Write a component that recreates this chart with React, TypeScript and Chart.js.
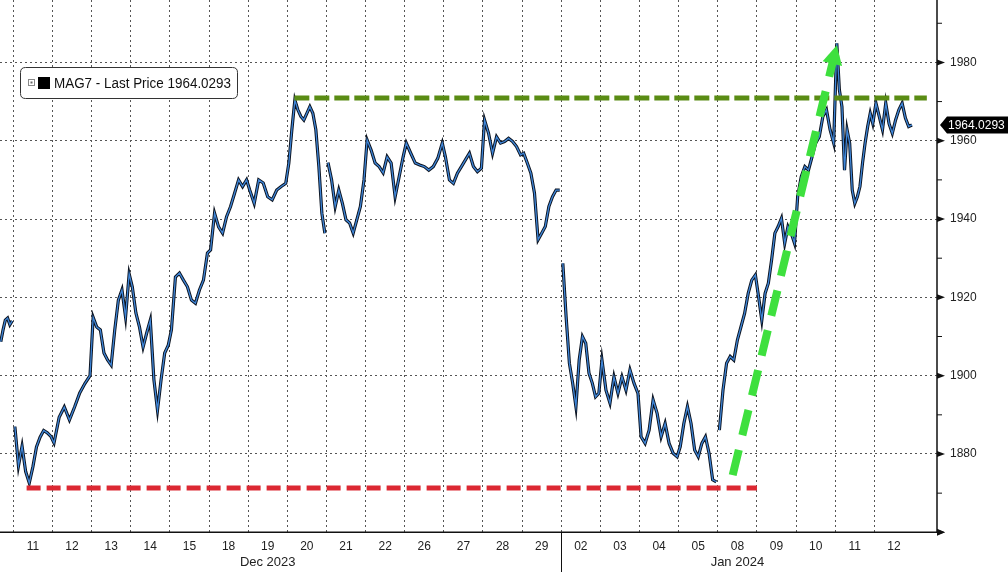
import React, { useEffect, useRef } from "react";
import { Chart, registerables } from "chart.js";

Chart.register(...registerables);

// ---------- data ----------
const dayLabels = ["08", "11", "12", "13", "14", "15", "18", "19", "20", "21", "22", "26", "27", "28", "29", "02", "03", "04", "05", "08", "09", "10", "11", "12"];

const dayPrices: number[][] = [
  [1908.7, 1911.7, 1914.2, 1914.7, 1913.0, 1914.0],
  [1887.0, 1877.0, 1882.0, 1875.5, 1872.6, 1876.7, 1881.8, 1884.3, 1886.0, 1885.4, 1884.5],
  [1882.8, 1889.4, 1892.0, 1888.7, 1892.0, 1895.6, 1898.0, 1900.0],
  [1914.9, 1912.4, 1911.7, 1905.8, 1904.0, 1902.7, 1911.7, 1919.3, 1921.9, 1915.0, 1926.0],
  [1922.7, 1916.0, 1912.4, 1907.3, 1910.9, 1914.2, 1899.0, 1891.2, 1899.0, 1905.8, 1907.8],
  [1911.7, 1925.2, 1926.2, 1924.4, 1922.7, 1919.3, 1918.5, 1921.9, 1924.4, 1931.3],
  [1932.1, 1941.5, 1938.0, 1936.4, 1940.6, 1943.2, 1946.6, 1950.0, 1948.3, 1950.0],
  [1947.4, 1944.0, 1950.0, 1949.2, 1945.7, 1944.9, 1947.4, 1948.3, 1949.1],
  [1954.3, 1962.8, 1970.4, 1967.9, 1966.2, 1965.3, 1967.0, 1968.7, 1967.0, 1962.8, 1953.4, 1941.5, 1936.4],
  [1954.4, 1950.0, 1943.2, 1947.4, 1944.0, 1939.8, 1939.0, 1936.4, 1939.8, 1943.2, 1950.0],
  [1960.2, 1957.6, 1954.3, 1953.4, 1951.8, 1955.9, 1954.3, 1945.7, 1950.8, 1955.9],
  [1959.4, 1956.8, 1954.3, 1953.8, 1953.4, 1952.5, 1953.4, 1955.5, 1959.4],
  [1955.9, 1950.0, 1949.1, 1951.7, 1953.4, 1955.1, 1956.8, 1953.4, 1952.1, 1953.0],
  [1965.3, 1961.9, 1956.8, 1961.0, 1959.4, 1959.8, 1960.6, 1959.8, 1958.5, 1956.4],
  [1956.8, 1954.3, 1951.7, 1946.6, 1934.7, 1936.4, 1938.1, 1943.2, 1945.7, 1947.4, 1947.4],
  [1928.7, 1915.1, 1903.2, 1898.1, 1892.1, 1904.0, 1910.0, 1908.3, 1900.6, 1898.1, 1894.6, 1895.5],
  [1904.0, 1896.3, 1893.0, 1899.7, 1895.5, 1899.7, 1896.3, 1901.5, 1898.1, 1895.5],
  [1884.4, 1882.7, 1886.1, 1893.8, 1890.4, 1884.4, 1887.8, 1882.7, 1880.2, 1879.3],
  [1881.9, 1887.8, 1892.1, 1887.8, 1881.0, 1879.3, 1882.7, 1884.4, 1880.2, 1873.4, 1872.9],
  [1886.1, 1896.3, 1903.2, 1904.9, 1904.0, 1909.1, 1912.5, 1915.9, 1921.0, 1924.4, 1925.7],
  [1920.2, 1914.2, 1921.0, 1923.6, 1929.6, 1936.4, 1938.1, 1940.2, 1933.8, 1938.1, 1936.4, 1933.8],
  [1945.7, 1950.8, 1953.4, 1952.5, 1955.9, 1959.4, 1961.0, 1966.2, 1967.9, 1962.8, 1959.4],
  [1984.9, 1973.0, 1968.7, 1952.5, 1962.8, 1959.4, 1947.4, 1944.0, 1945.7, 1948.3, 1954.3, 1959.4, 1963.6, 1967.0, 1964.4],
  [1969.6, 1966.2, 1962.8, 1969.6, 1964.4, 1961.9, 1965.3, 1967.9, 1969.6, 1965.8, 1963.6, 1964.0293],
];

const sessionBreaks = [1, 9, 15, 19];
const monthLabels = ["Dec 2023", "Jan 2024"];
const monthCenters = [7.5, 19.5];
const yearBoundary = 15;
const gridDays = [1, 2, 3, 4, 5, 6, 7, 8, 9, 10, 11, 12, 13, 14, 15, 16, 17, 18, 19, 20, 21, 22, 23];
const yTickValues = [1860, 1870, 1880, 1890, 1900, 1910, 1920, 1930, 1940, 1950, 1960, 1970, 1980, 1990];
const yLabelValues = [1880, 1900, 1920, 1940, 1960, 1980];
const seriesName = "MAG7 - Last Price";
const lastPrice = 1964.0293;

const supportLevel = 1871.3;
const supportRange = [1.34, 20.0];
const resistanceLevel = 1970.9;
const resistanceRange = [8.18, 24.34];
const arrowFrom = [19.38, 1874.6];
const arrowTo = [22.04, 1984.4];

const FONT = "'Liberation Sans', Arial, sans-serif";

function buildPoints() {
  const pts: { x: number; y: number | null }[] = [];
  dayPrices.forEach((prices, d) => {
    if (sessionBreaks.includes(d)) pts.push({ x: d - 0.001, y: null });
    const start = d === 0 ? 0.68 : d + 0.04;
    const end = d === 0 ? 0.97 : d + 0.96;
    prices.forEach((p, i) => {
      pts.push({ x: start + ((end - start) * i) / (prices.length - 1), y: p });
    });
  });
  return pts;
}

const overlayPlugin = {
  id: "overlay",
  afterDatasetsDraw(chart: any) {
    const { ctx, scales } = chart;
    const xs = scales.x;
    const ys = scales.y;
    ctx.save();
    // support line (red)
    ctx.setLineDash([14, 6]);
    ctx.lineWidth = 5;
    ctx.strokeStyle = "#dc2832";
    ctx.beginPath();
    ctx.moveTo(xs.getPixelForValue(supportRange[0]), ys.getPixelForValue(supportLevel));
    ctx.lineTo(xs.getPixelForValue(supportRange[1]), ys.getPixelForValue(supportLevel));
    ctx.stroke();
    // resistance line (olive)
    ctx.setLineDash([15, 5]);
    ctx.strokeStyle = "#5a8c14";
    ctx.beginPath();
    ctx.moveTo(xs.getPixelForValue(resistanceRange[0]), ys.getPixelForValue(resistanceLevel));
    ctx.lineTo(xs.getPixelForValue(resistanceRange[1]), ys.getPixelForValue(resistanceLevel));
    ctx.stroke();
    // green arrow
    const x0 = xs.getPixelForValue(arrowFrom[0]);
    const y0 = ys.getPixelForValue(arrowFrom[1]);
    const x1 = xs.getPixelForValue(arrowTo[0]);
    const y1 = ys.getPixelForValue(arrowTo[1]);
    const len = Math.hypot(x1 - x0, y1 - y0);
    const ux = (x1 - x0) / len;
    const uy = (y1 - y0) / len;
    const headLen = 19;
    const headHalf = 10;
    const bx = x1 - ux * headLen;
    const by = y1 - uy * headLen;
    ctx.setLineDash([26, 15]);
    ctx.lineWidth = 8;
    ctx.strokeStyle = "#3ee03e";
    ctx.beginPath();
    ctx.moveTo(x0, y0);
    ctx.lineTo(bx + ux * 2, by + uy * 2);
    ctx.stroke();
    ctx.setLineDash([]);
    ctx.fillStyle = "#3ee03e";
    ctx.beginPath();
    ctx.moveTo(x1, y1);
    ctx.lineTo(bx - uy * headHalf, by + ux * headHalf);
    ctx.lineTo(bx + uy * headHalf, by - ux * headHalf);
    ctx.closePath();
    ctx.fill();
    ctx.restore();
  },
  afterDraw(chart: any) {
    const { ctx, scales, chartArea } = chart;
    const xs = scales.x;
    const ys = scales.y;
    const right = chartArea.right;
    const bottom = chartArea.bottom;
    ctx.save();
    ctx.setLineDash([]);
    ctx.strokeStyle = "#111";
    ctx.fillStyle = "#111";
    ctx.lineWidth = 1.5;
    // axes
    ctx.beginPath();
    ctx.moveTo(right, 0);
    ctx.lineTo(right, bottom);
    ctx.moveTo(0, bottom);
    ctx.lineTo(right, bottom);
    ctx.stroke();
    // x axis arrow
    ctx.beginPath();
    ctx.moveTo(right + 8, bottom);
    ctx.lineTo(right, bottom - 3.5);
    ctx.lineTo(right, bottom + 3.5);
    ctx.closePath();
    ctx.fill();
    // y ticks
    yTickValues.forEach((v) => {
      const y = ys.getPixelForValue(v);
      if (v % 20 === 0) {
        ctx.beginPath();
        ctx.moveTo(right + 8, y);
        ctx.lineTo(right, y - 3);
        ctx.lineTo(right, y + 3);
        ctx.closePath();
        ctx.fill();
      } else {
        ctx.lineWidth = 1;
        ctx.beginPath();
        ctx.moveTo(right, y);
        ctx.lineTo(right + 5, y);
        ctx.stroke();
      }
    });
    // year separator
    const sx = Math.round(xs.getPixelForValue(yearBoundary)) + 0.5;
    ctx.lineWidth = 1;
    ctx.beginPath();
    ctx.moveTo(sx, bottom);
    ctx.lineTo(sx, chart.height);
    ctx.stroke();
    // month labels
    ctx.font = `13px ${FONT}`;
    ctx.fillStyle = "#222";
    ctx.textAlign = "center";
    ctx.textBaseline = "middle";
    monthLabels.forEach((m, i) => {
      ctx.fillText(m, xs.getPixelForValue(monthCenters[i]), 562);
    });
    // last price tag
    const ty = ys.getPixelForValue(lastPrice);
    ctx.fillStyle = "#000";
    ctx.beginPath();
    ctx.moveTo(right + 3, ty);
    ctx.lineTo(right + 10, ty - 8.5);
    ctx.lineTo(chart.width, ty - 8.5);
    ctx.lineTo(chart.width, ty + 8.5);
    ctx.lineTo(right + 10, ty + 8.5);
    ctx.closePath();
    ctx.fill();
    ctx.fillStyle = "#fff";
    ctx.font = `12px ${FONT}`;
    ctx.textAlign = "left";
    ctx.textBaseline = "middle";
    ctx.fillText(lastPrice.toFixed(4), right + 11, ty + 0.5);
    // legend box
    const lx = 20.5, ly = 67.5, lw = 217, lh = 31, r = 5;
    ctx.beginPath();
    ctx.moveTo(lx + r, ly);
    ctx.lineTo(lx + lw - r, ly);
    ctx.quadraticCurveTo(lx + lw, ly, lx + lw, ly + r);
    ctx.lineTo(lx + lw, ly + lh - r);
    ctx.quadraticCurveTo(lx + lw, ly + lh, lx + lw - r, ly + lh);
    ctx.lineTo(lx + r, ly + lh);
    ctx.quadraticCurveTo(lx, ly + lh, lx, ly + lh - r);
    ctx.lineTo(lx, ly + r);
    ctx.quadraticCurveTo(lx, ly, lx + r, ly);
    ctx.closePath();
    ctx.fillStyle = "#fff";
    ctx.fill();
    ctx.strokeStyle = "#333";
    ctx.lineWidth = 1;
    ctx.stroke();
    ctx.strokeStyle = "#888";
    ctx.strokeRect(28.5, 79.5, 6, 6);
    ctx.fillStyle = "#666";
    ctx.fillRect(30.5, 81.5, 2, 2);
    ctx.fillStyle = "#000";
    ctx.fillRect(38, 77, 12, 12);
    ctx.fillStyle = "#111";
    ctx.font = `14px ${FONT}`;
    ctx.textAlign = "left";
    ctx.textBaseline = "alphabetic";
    ctx.fillText(`${seriesName} ${lastPrice.toFixed(4)}`, 54, 88, 177);
    ctx.restore();
  },
};

export default function App() {
  const ref = useRef<HTMLCanvasElement | null>(null);
  useEffect(() => {
    if (!ref.current) return;
    const pts = buildPoints();
    const chart = new Chart(ref.current, {
      type: "line",
      data: {
        datasets: [
          {
            data: pts as any,
            borderColor: "#3f86d8",
            borderWidth: 1.3,
            pointRadius: 0,
            tension: 0,
            spanGaps: false,
            order: 1,
          },
          {
            data: pts as any,
            borderColor: "#0b1320",
            borderWidth: 3.2,
            pointRadius: 0,
            tension: 0,
            spanGaps: false,
            order: 2,
          },
        ],
      },
      options: {
        animation: false,
        responsive: false,
        devicePixelRatio: 1,
        layout: { padding: 0 },
        plugins: { legend: { display: false }, tooltip: { enabled: false } },
        scales: {
          x: {
            type: "linear",
            min: 0.66,
            max: 24.6,
            afterBuildTicks: (s: any) => {
              s.ticks = gridDays.map((v) => ({ value: v }));
            },
            afterFit: (s: any) => {
              s.height = 39.7;
              s.paddingLeft = 0;
              s.paddingRight = 0;
              s.paddingTop = 0;
              s.paddingBottom = 0;
            },
            grid: { color: "#555", lineWidth: 1, drawTicks: false },
            border: { display: false, dash: [2, 3] },
            ticks: {
              autoSkip: false,
              maxRotation: 0,
              padding: 7,
              labelOffset: 19.57,
              color: "#222",
              font: { family: FONT, size: 12 },
              callback: (v: any) => dayLabels[v] ?? "",
            },
          },
          y: {
            type: "linear",
            position: "right",
            min: 1860,
            max: 1995.94,
            afterBuildTicks: (s: any) => {
              s.ticks = yTickValues.map((v) => ({ value: v }));
            },
            afterFit: (s: any) => {
              s.width = 71;
              s.paddingTop = 0;
              s.paddingBottom = 0;
              s.paddingLeft = 0;
              s.paddingRight = 0;
            },
            grid: {
              drawTicks: false,
              lineWidth: 1,
              color: (c: any) =>
                c.tick && yLabelValues.includes(c.tick.value) ? "#555" : "rgba(0,0,0,0)",
            },
            border: { display: false, dash: [2, 3] },
            ticks: {
              padding: 13,
              color: "#222",
              font: { family: FONT, size: 12 },
              callback: (v: any) => (yLabelValues.includes(v) ? String(v) : ""),
            },
          },
        },
      },
      plugins: [overlayPlugin],
    });
    return () => chart.destroy();
  }, []);
  return (
    <div style={{ position: "fixed", left: 0, top: 0, width: 1008, height: 572, background: "#fff" }}>
      <canvas ref={ref} width={1008} height={572} style={{ display: "block" }} />
    </div>
  );
}
